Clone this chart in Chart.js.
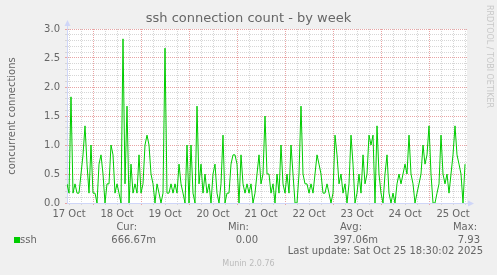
<!DOCTYPE html>
<html><head><meta charset="utf-8">
<script src="https://cdn.jsdelivr.net/npm/chart.js@4/dist/chart.umd.min.js"></script>
<style>
html,body{margin:0;padding:0;background:#F0F0F0;}
#wrap{position:relative;width:497px;height:275px;overflow:hidden;font-family:"DejaVu Sans",sans-serif;color:#666666;}
#c{position:absolute;left:0;top:0;}
.t{position:absolute;white-space:nowrap;font-size:10px;line-height:12px;}
</style></head><body>
<div id="wrap">
<canvas id="c" width="497" height="275"></canvas>
</div>
<script>
// ---- data ----
const chartTitle = 'ssh connection count - by week';
const yAxisTitle = 'concurrent connections';
const dayLabels = ['17 Oct','18 Oct','19 Oct','20 Oct','21 Oct','22 Oct','23 Oct','24 Oct','25 Oct'];
const yMajorLabels = ['0.0','0.5','1.0','1.5','2.0','2.5','3.0'];
const startHour = 11;      // first sample, hours after 17 Oct 00:00 (one sample per hour)
const endHour = 211;
const sshValues = [
 0.33,0.17,1.83,0.17,0.33,0.17,0.17,0.5,0.83,1.33,
 0.67,0.17,1.0,0.17,0.17,0,0.67,0.83,0.5,0,
 0.33,0.33,1.0,0.83,0.17,0.33,0.17,0,2.83,0.33,
 1.67,0,0.67,0.17,0.33,0.17,0.83,0.17,0.33,1.0,
 1.17,1.0,0.5,0.33,0,0.33,0.17,0,0.17,2.67,
 0.17,0.17,0.33,0.17,0.33,0.17,0.67,0.33,0.17,0,
 1.0,0,1.0,0.17,0,1.67,0.33,0.67,0.17,0.5,
 0.17,0.33,0,0.5,0.67,0.17,0,0.33,1.17,0,
 0.17,0.17,0.67,0.83,0.83,0.67,0,0.83,0.33,0.17,
 0.33,0.17,0.33,0,0.17,0.5,0.83,0.33,0.5,1.5,
 0.5,0.5,0.17,0.33,0,0.5,0.17,1.0,0.33,0.17,
 0.5,0.17,1.0,0.5,0,0,0.5,1.67,0.5,0.33,
 0.33,0.17,0.33,0.17,0.5,0.83,0.67,0.5,0.17,0.17,
 0.33,0.17,0,0.17,1.17,0.83,0.33,0.5,0.17,0.33,
 0,0.33,1.17,0.67,0,0.17,0.5,0.17,0.83,0.33,
 0.5,1.17,1.0,1.17,0,1.33,0.5,0.17,0,0.5,
 0.83,0.17,0,0.17,0,0.33,0.5,0.33,0.5,0.67,
 0.5,1.17,0.5,0.33,0,0.17,0.33,0.5,1.0,0.67,
 0.83,1.33,0.5,0,0,0.17,0.33,1.17,0.5,0.33,
 0.5,0.17,0.5,0.83,1.33,0.83,0.67,0.5,0,0.67
];
const seriesName = 'ssh';
const legendHeaders = ['Cur:','Min:','Avg:','Max:'];
const legendValues = ['666.67m','0.00','397.06m','7.93'];
const lastUpdate = 'Last update: Sat Oct 25 18:30:02 2025';
const footer = 'Munin 2.0.76';
const sideText = 'RRDTOOL / TOBI OETIKER';

// ---- styles ----
const FONT = '"DejaVu Sans", sans-serif';
const TXT = '#666666';
const MINOR = '#D6D6D6';
const MAJOR = '#E8A4A4';
const AXIS = '#CFD6F8';
const LINE = '#00CC00';

// ---- html text (title, legend etc.) ----
const wrap = document.getElementById('wrap');
function addText(txt, css){ const d=document.createElement('div'); d.className='t'; d.textContent=txt; Object.assign(d.style, css); wrap.appendChild(d); return d; }
addText(chartTitle,{left:'0',width:'497px',textAlign:'center',top:'10px',fontSize:'13px',lineHeight:'15px'});
const sq = document.createElement('div');
Object.assign(sq.style,{position:'absolute',left:'14px',top:'237px',width:'6px',height:'6px',background:LINE});
wrap.appendChild(sq);
addText(seriesName,{left:'20px',top:'234px'});
const headRight = [137,249,362,477];
const valRight = [156,258,378,480];
legendHeaders.forEach((h,i)=>addText(h,{right:(497-headRight[i])+'px',top:'221px'}));
legendValues.forEach((v,i)=>addText(v,{right:(497-valRight[i])+'px',top:'234px'}));
addText(lastUpdate,{right:(497-483)+'px',top:'245px'});
addText(footer,{left:'0',width:'497px',textAlign:'center',top:'259px',fontSize:'8px',lineHeight:'10px',color:'#BBBBBB'});
addText(sideText,{left:'485px',top:'5px',fontSize:'8px',lineHeight:'9px',color:'#C8C8C8',writingMode:'vertical-rl'});

// ---- chart ----
const points = sshValues.map((v,i)=>({x:startHour+i, y:v}));

const bgPlugin = {
  id:'bg',
  beforeDraw(chart){
    const {ctx, chartArea:a} = chart;
    ctx.save(); ctx.fillStyle='#FFFFFF';
    ctx.fillRect(a.left,a.top,a.right-a.left,a.bottom-a.top);
    ctx.restore();
  },
  afterDraw(chart){
    const {ctx, chartArea:a} = chart;
    ctx.save();
    ctx.strokeStyle=AXIS; ctx.fillStyle=AXIS; ctx.lineWidth=1;
    const xl = Math.round(a.left)+0.5, yb = Math.round(a.bottom)+0.5;
    ctx.beginPath(); ctx.moveTo(xl,a.top); ctx.lineTo(xl,a.top-5); ctx.stroke();
    ctx.beginPath(); ctx.moveTo(xl,a.top-9); ctx.lineTo(xl-3,a.top-3); ctx.lineTo(xl+3,a.top-3); ctx.closePath(); ctx.fill();
    ctx.beginPath(); ctx.moveTo(a.right,yb); ctx.lineTo(a.right+3,yb); ctx.stroke();
    ctx.beginPath(); ctx.moveTo(a.right+7,yb); ctx.lineTo(a.right+1,yb-3); ctx.lineTo(a.right+1,yb+3); ctx.closePath(); ctx.fill();
    ctx.restore();
  }
};

new Chart(document.getElementById('c'), {
  type:'line',
  data:{ datasets:[{ label:seriesName, data:points, borderColor:LINE, borderWidth:1, pointRadius:0, fill:false, tension:0 }] },
  options:{
    responsive:false, animation:false, devicePixelRatio:1,
    layout:{ padding:{left:0,right:30,top:29,bottom:0} },
    plugins:{
      legend:{display:false}, tooltip:{enabled:false}, title:{display:false}
    },
    scales:{
      x:{
        type:'linear', min:startHour, max:endHour,
        afterBuildTicks:s=>{ const t=[]; for(let h=12; h<=endHour; h+=6) t.push({value:h}); s.ticks=t; },
        ticks:{ autoSkip:false, maxRotation:0, minRotation:0, padding:3, color:TXT, font:{family:FONT,size:10},
          callback:v=> (v%24===12) ? dayLabels[(v-12)/24] : '' },
        grid:{ lineWidth:1, tickLength:2, color:c=> (c.tick && c.tick.value%24===0) ? MAJOR : MINOR,
          tickColor:c=> (c.tick && c.tick.value%24===0) ? MAJOR : MINOR },
        border:{ display:true, color:AXIS, dash:[1,1] },
        afterFit:s=>{ s.height=72; }
      },
      y:{
        min:0, max:3,
        afterBuildTicks:s=>{ const t=[]; for(let k=0;k<=30;k++) t.push({value:k/10}); s.ticks=t; },
        ticks:{ autoSkip:false, padding:5, color:TXT, font:{family:FONT,size:10},
          callback:(v,i)=> (i%5===0) ? yMajorLabels[i/5] : '' },
        grid:{ lineWidth:1, tickLength:2, color:c=> (c.index%5===0) ? MAJOR : MINOR,
          tickColor:c=> (c.index%5===0) ? MAJOR : MINOR },
        border:{ display:true, color:AXIS, dash:[1,1] },
        title:{ display:true, text:yAxisTitle, color:TXT, font:{family:FONT,size:10}, padding:{top:6,bottom:0} },
        afterFit:s=>{ s.width=67; }
      }
    }
  },
  plugins:[bgPlugin]
});
</script>
</body></html>
